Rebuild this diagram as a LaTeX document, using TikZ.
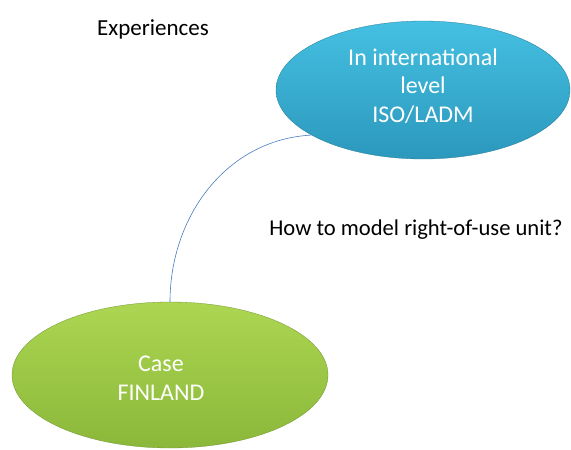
\documentclass[tikz,border=0pt]{standalone}
\usepackage{fontspec}
\setmainfont{Carlito}
\usetikzlibrary{shapes.geometric}
\definecolor{bluetop}{HTML}{45C0E2}
\definecolor{bluebot}{HTML}{2B98BC}
\definecolor{greentop}{HTML}{ACD652}
\definecolor{greenbot}{HTML}{8BB83A}
\definecolor{linkblue}{HTML}{4A7EC0}
\tikzset{
  bubble/.style={ellipse, inner sep=0pt, line width=0.3pt},
  bubbletext/.style={inner sep=0pt, text=white, align=center, font=\fontsize{24}{28.5}\selectfont},
  plain/.style={inner sep=0pt, text=black, font=\fontsize{23}{27}\selectfont},
}
\begin{document}
\begin{tikzpicture}[x=1pt,y=-1pt]
\useasboundingbox (0,0) rectangle (571,450);
\node[bubble, minimum width=294pt, minimum height=138pt, top color=bluetop, bottom color=bluebot, draw=bluebot!80!black] (intl) at (423,90) {};
\node[bubbletext] (intltext) at (423,86) {In international\\level\\ISO/LADM};
\node[bubble, minimum width=316pt, minimum height=146pt, top color=greentop, bottom color=greenbot, draw=greenbot!80!black] (fin) at (170,375) {};
\node[bubbletext] (fintext) at (161,378) {Case\\FINLAND};
\node[plain] (exp) at (153,29) {Experiences};
\node[plain, font=\fontsize{22.6}{26}\selectfont] (how) at (416,230) {How to model right-of-use unit?};
\draw[linkblue, line width=0.6pt] (fin.north) to[out=90, in=183] (intl.202);
\end{tikzpicture}
\end{document}
